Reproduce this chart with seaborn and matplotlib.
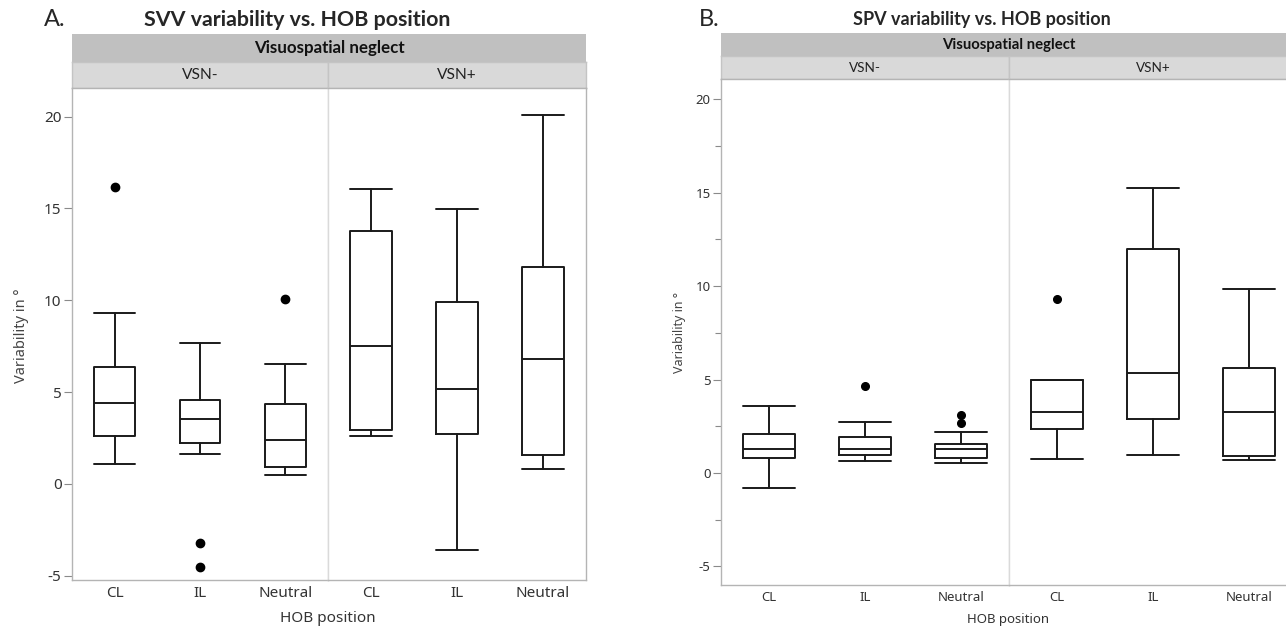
import matplotlib
matplotlib.use("Agg")
import matplotlib.pyplot as plt
import seaborn as sns
from matplotlib.ticker import MultipleLocator

sns.set_style("white")
plt.rcParams['font.family'] = ['Noto Sans', 'DejaVu Sans']

# ---- data (degrees) ----
cats = ["CL", "IL", "Neutral"]
facets = ["VSN-", "VSN+"]

# A. SVV variability
svv_neg_whislo = [1.07, 1.63, 0.49]
svv_neg_q1 = [2.61, 2.21, 0.91]
svv_neg_med = [4.43, 3.52, 2.40]
svv_neg_q3 = [6.39, 4.57, 4.36]
svv_neg_whishi = [9.33, 7.66, 6.53]
svv_neg_fliers = [[16.19], [-3.23, -4.54], [10.09]]

svv_pos_whislo = [2.61, -3.59, 0.82]
svv_pos_q1 = [2.94, 2.70, 1.56]
svv_pos_med = [7.51, 5.15, 6.79]
svv_pos_q3 = [13.79, 9.89, 11.83]
svv_pos_whishi = [16.08, 14.95, 20.09]
svv_pos_fliers = [[], [], []]

# B. SPV variability
spv_neg_whislo = [-0.78, 0.62, 0.53]
spv_neg_q1 = [0.82, 0.97, 0.82]
spv_neg_med = [1.30, 1.30, 1.30]
spv_neg_q3 = [2.08, 1.93, 1.54]
spv_neg_whishi = [3.58, 2.74, 2.20]
spv_neg_fliers = [[], [4.67], [3.09, 2.67]]

spv_pos_whislo = [0.76, 0.97, 0.68]
spv_pos_q1 = [2.33, 2.90, 0.91]
spv_pos_med = [3.25, 5.33, 3.25]
spv_pos_q3 = [4.96, 12.00, 5.64]
spv_pos_whishi = [4.96, 15.25, 9.86]
spv_pos_fliers = [[9.30], [], []]

W, H = 1286, 631
TITLE_FONT = ['Lato', 'DejaVu Sans']


def make_stats(whislo, q1, med, q3, whishi, fliers):
    out = []
    for i in range(len(cats)):
        out.append(dict(whislo=whislo[i], q1=q1[i], med=med[i], q3=q3[i],
                        whishi=whishi[i], fliers=fliers[i], label=cats[i]))
    return out


def px_axes(fig, x0, y0, x1, y1):
    return fig.add_axes([x0 / W, 1 - y1 / H, (x1 - x0) / W, (y1 - y0) / H])


def draw_panel(fig, stats_list, x0, xmid, x1, ytop_dark, ytop_light, ytop, ybot,
               ylim, width, fs, hfs, msize, minor):
    # headers
    hd = px_axes(fig, x0, ytop_dark, x1, ytop_light)
    hd.set_facecolor('#c0c0c0')
    hd.set_xticks([]); hd.set_yticks([])
    for s in hd.spines.values():
        s.set_visible(False)
    hd.text(0.5, 0.5, "Visuospatial neglect", transform=hd.transAxes,
            ha='center', va='center', fontsize=hfs, fontweight='bold',
            family=TITLE_FONT, color='#111111')
    for name, (a, b) in zip(facets, [(x0, xmid), (xmid, x1)]):
        hl = px_axes(fig, a, ytop_light, b, ytop)
        hl.set_facecolor('#d9d9d9')
        hl.set_xticks([]); hl.set_yticks([])
        for s in hl.spines.values():
            s.set_color('#c4c4c4')
            s.set_linewidth(1.0)
        hl.text(0.5, 0.5, name, transform=hl.transAxes, ha='center',
                va='center', fontsize=hfs - 1, family=TITLE_FONT,
                color='#222222')

    axes = []
    for k, (a, b) in enumerate([(x0, xmid), (xmid, x1)]):
        ax = px_axes(fig, a, ytop, b, ybot)
        ax.bxp(stats_list[k], positions=[0, 1, 2], widths=width,
               capwidths=width, showfliers=True,
               boxprops=dict(color='#1a1a1a', lw=1.4),
               whiskerprops=dict(color='#1a1a1a', lw=1.4),
               capprops=dict(color='#1a1a1a', lw=1.4),
               medianprops=dict(color='#1a1a1a', lw=1.4),
               flierprops=dict(marker='o', markerfacecolor='black',
                               markeredgecolor='black', markersize=msize))
        ax.set_xlim(-0.5, 2.5)
        ax.set_ylim(*ylim)
        ax.set_xticks([0, 1, 2])
        ax.set_xticklabels(cats)
        ax.tick_params(axis='x', length=0, pad=4, labelsize=fs,
                       labelcolor='#333333')
        for s in ax.spines.values():
            s.set_color('#b4b4b4')
            s.set_linewidth(1.0)
        if k == 0:
            ax.spines['right'].set_color('#dadada')
            ax.set_yticks([-5, 0, 5, 10, 15, 20])
            ax.set_yticklabels(['-5', '0', '5', '10', '15', '20'])
            ax.tick_params(axis='y', left=True, length=6, width=0.8,
                           color='#8a8a8a', pad=1.5, labelsize=fs,
                           labelcolor='#333333')
            if minor:
                ax.yaxis.set_minor_locator(MultipleLocator(2.5))
                ax.tick_params(axis='y', which='minor', left=True, length=4,
                               width=0.8, color='#8a8a8a')
        else:
            ax.spines['left'].set_color('#dadada')
            ax.set_yticks([])
        ax.grid(False)
        axes.append(ax)
    return axes


fig = plt.figure(figsize=(W / 100, H / 100), dpi=100)

svv_stats = [make_stats(svv_neg_whislo, svv_neg_q1, svv_neg_med, svv_neg_q3,
                        svv_neg_whishi, svv_neg_fliers),
             make_stats(svv_pos_whislo, svv_pos_q1, svv_pos_med, svv_pos_q3,
                        svv_pos_whishi, svv_pos_fliers)]
spv_stats = [make_stats(spv_neg_whislo, spv_neg_q1, spv_neg_med, spv_neg_q3,
                        spv_neg_whishi, spv_neg_fliers),
             make_stats(spv_pos_whislo, spv_pos_q1, spv_pos_med, spv_pos_q3,
                        spv_pos_whishi, spv_pos_fliers)]

draw_panel(fig, svv_stats, 72, 328, 586, 34, 62, 88, 580, (-5.23, 21.56),
           0.48, 11, 12.2, 6, False)
draw_panel(fig, spv_stats, 721, 1009, 1297, 33, 56, 79, 585, (-5.99, 21.08),
           0.54, 9.5, 10.7, 5.5, True)

# titles, panel letters, axis labels
fig.text(297 / W, 1 - 20 / H, "SVV variability vs. HOB position", ha='center',
         va='center', fontsize=15.4, fontweight='bold', family=TITLE_FONT)
fig.text(982 / W, 1 - 20 / H, "SPV variability vs. HOB position", ha='center',
         va='center', fontsize=13, fontweight='bold', family=TITLE_FONT)
fig.text(44 / W, 1 - 19 / H, "A.", ha='left', va='center', fontsize=17,
         family=TITLE_FONT)
fig.text(699 / W, 1 - 19 / H, "B.", ha='left', va='center', fontsize=17,
         family=TITLE_FONT)
fig.text(328 / W, 1 - 618 / H, "HOB position", ha='center', va='center',
         fontsize=11, color='#333333')
fig.text(1008 / W, 1 - 619 / H, "HOB position", ha='center', va='center',
         fontsize=9.5, color='#333333')
fig.text(22 / W, 1 - 336 / H, "Variability in °", rotation=90, ha='center',
         va='center', fontsize=10.5, color='#444444')
fig.text(680 / W, 1 - 332 / H, "Variability in °", rotation=90, ha='center',
         va='center', fontsize=9, color='#444444')

fig.savefig("out.png", dpi=100)
